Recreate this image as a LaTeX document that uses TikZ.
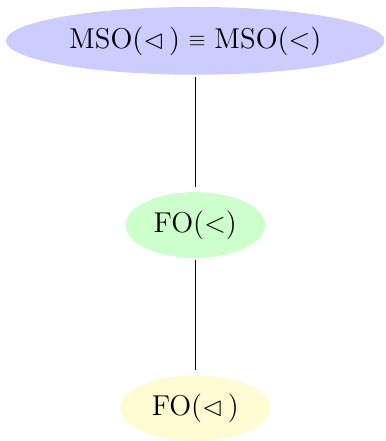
\documentclass[tikz,border=0pt]{standalone}
\usepackage{amsmath}
\usepackage{amssymb}
\usepackage{tikz}
\usetikzlibrary{shapes.geometric,positioning}
\tikzset{
    %Define style for the logic ellipses
    logik/.style={
           ellipse,
           inner sep=0pt,
           minimum height=33pt,
           font=\fontsize{13.5}{16}\selectfont,
           text centered},
    % Define line style
    lin/.style={
           -,
           line width=0.7pt,
           shorten <=1pt,
           shorten >=2.5pt}
}
\begin{document}
\begin{tikzpicture}[node distance=58.5pt]
 %nodes
\node[logik, fill={rgb,255:red,204;green,204;blue,255}, minimum width=190pt, minimum height=34pt](1){$\mathrm{MSO}(\lhd\,)$ \raisebox{0.7pt}{\fontsize{11}{12}\selectfont$\equiv$} $\mathrm{MSO}(<)$};
\node[logik, fill={rgb,255:red,204;green,255;blue,204}, minimum width=70pt, below = of 1](2){$\mathrm{FO}(<)$};
\node[logik, fill={rgb,255:red,255;green,252;blue,212}, minimum width=75pt, below = of 2](3){$\mathrm{FO}(\lhd\,)$};
\path[lin]
	(1) edge (2)
	(2) edge (3);
\useasboundingbox (-98pt,20.5pt) rectangle (95.5pt,-200pt);
\end{tikzpicture}
\end{document}
